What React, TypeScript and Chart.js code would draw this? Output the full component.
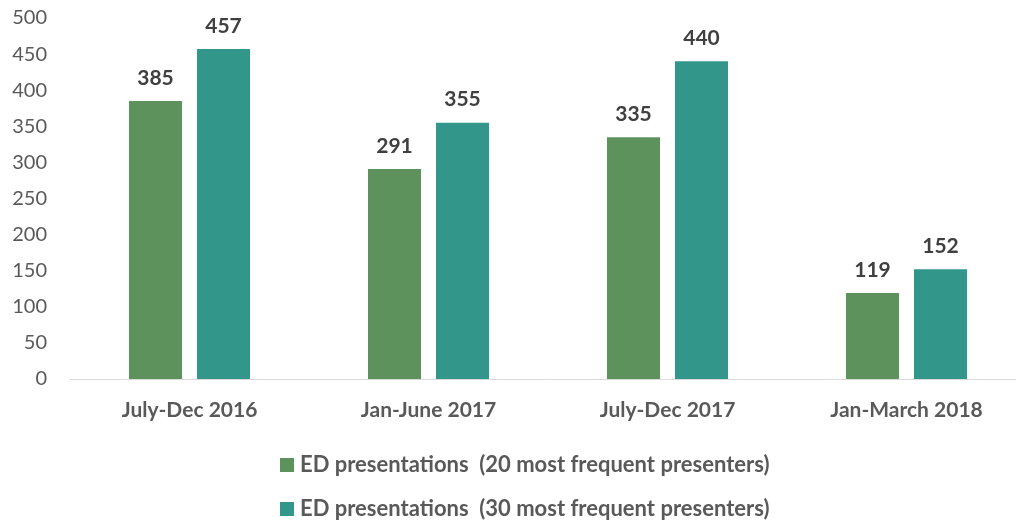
import React, { useEffect, useRef } from "react";
import { Chart, registerables } from "chart.js";

Chart.register(...registerables);

const categories = ["July-Dec 2016", "Jan-June 2017", "July-Dec 2017", "Jan-March 2018"];
const series20 = [385, 291, 335, 119];
const series30 = [457, 355, 440, 152];
const seriesNames = [
  "ED presentations  (20 most frequent presenters)",
  "ED presentations  (30 most frequent presenters)",
];
const seriesColors = ["#5e925c", "#33968b"];
const yTicks = { min: 0, max: 500, step: 50 };

const FONT = "Lato, 'Open Sans', sans-serif";
const CANVAS_W = 1040;
const CANVAS_H = 522;

const valueLabels = {
  id: "valueLabels",
  afterDatasetsDraw(chart: any) {
    const ctx = chart.ctx;
    ctx.save();
    ctx.font = `bold 21px ${FONT}`;
    ctx.fillStyle = "#404040";
    ctx.textAlign = "center";
    ctx.textBaseline = "middle";
    chart.data.datasets.forEach((ds: any, di: number) => {
      const meta = chart.getDatasetMeta(di);
      meta.data.forEach((el: any, i: number) => {
        ctx.fillText(String(ds.data[i]), el.x, el.y - 23);
      });
    });
    ctx.restore();
  },
};

const customLegend = {
  id: "customLegend",
  afterDraw(chart: any) {
    const ctx = chart.ctx;
    ctx.save();
    ctx.font = `bold 22px ${FONT}`;
    ctx.textBaseline = "middle";
    ctx.textAlign = "left";
    const rows = [465, 509];
    chart.data.datasets.forEach((ds: any, i: number) => {
      const y = rows[i];
      ctx.fillStyle = ds.backgroundColor;
      ctx.fillRect(280, y - 7, 14, 14);
      ctx.fillStyle = "#595959";
      ctx.fillText(ds.label, 300, y);
    });
    ctx.restore();
  },
};

export default function App() {
  const ref = useRef<HTMLCanvasElement>(null);
  useEffect(() => {
    document.body.style.margin = "0";
    document.body.style.overflow = "hidden";
    const chart = new Chart(ref.current!, {
      type: "bar",
      data: {
        labels: categories,
        datasets: [
          {
            label: seriesNames[0],
            data: series20,
            backgroundColor: seriesColors[0],
            borderWidth: 0,
            categoryPercentage: 0.569,
            barPercentage: 0.78,
          },
          {
            label: seriesNames[1],
            data: series30,
            backgroundColor: seriesColors[1],
            borderWidth: 0,
            categoryPercentage: 0.569,
            barPercentage: 0.78,
          },
        ],
      },
      options: {
        responsive: false,
        animation: false,
        devicePixelRatio: 1,
        layout: { padding: { top: 18, left: 0, right: CANVAS_W - 1026, bottom: 93 } },
        plugins: {
          legend: { display: false },
          tooltip: { enabled: false },
        },
        scales: {
          x: {
            grid: { display: false, drawTicks: false },
            border: { display: true, color: "#d9d9d9", width: 1 },
            ticks: {
              padding: 19,
              color: "#595959",
              font: { family: FONT, size: 21, weight: "bold" },
              maxRotation: 0,
            },
            afterFit: (s: any) => {
              s.height = 50;
              s.paddingLeft = 0;
              s.paddingRight = 0;
            },
          },
          y: {
            min: yTicks.min,
            max: yTicks.max,
            grid: { display: false, drawTicks: false },
            border: { display: false },
            ticks: {
              stepSize: yTicks.step,
              padding: 23,
              color: "#595959",
              font: { family: FONT, size: 20 },
            },
            afterFit: (s: any) => {
              s.width = 70;
              s.paddingTop = 0;
              s.paddingBottom = 0;
            },
          },
        },
      },
      plugins: [valueLabels, customLegend],
    });
    return () => chart.destroy();
  }, []);
  return (
    <div style={{ position: "absolute", left: 0, top: 0, width: 1016, height: 522, overflow: "hidden", background: "#fff" }}>
      <canvas ref={ref} width={CANVAS_W} height={CANVAS_H} />
    </div>
  );
}
